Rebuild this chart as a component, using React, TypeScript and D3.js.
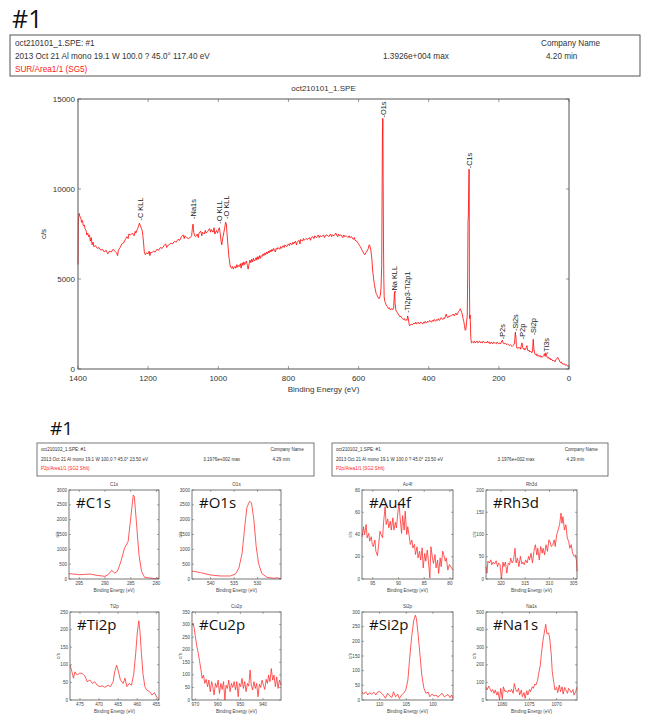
import React from "react";
import * as d3 from "d3";

// ---------- DATA ----------
const surveyBE = [1400,1399,1397,1395,1392,1390,1387,1385,1382,1380,1377,1375,1372,1370,1367,1365,1362,1360,1357,1355,1350,1345,1340,1335,1330,1325,1320,1315,1310,1305,1300,1295,1290,1287,1285,1280,1275,1270,1265,1260,1257,1255,1250,1245,1240,1237,1235,1230,1227,1225,1222,1220,1217,1215,1213,1211,1208,1205,1200,1197,1195,1192,1190,1185,1180,1175,1170,1165,1160,1155,1150,1147,1145,1140,1135,1130,1125,1120,1115,1110,1105,1100,1097,1095,1090,1085,1080,1076,1074,1072,1070,1067,1065,1060,1057,1055,1050,1047,1045,1040,1037,1035,1030,1025,1022,1020,1015,1012,1010,1005,1002,1000,997,995,992,990,987,985,982,979,977,975,973,970,967,965,962,960,957,955,952,950,947,945,942,940,937,935,932,930,927,925,922,920,917,915,912,910,907,905,902,900,897,895,892,890,887,885,882,880,877,875,872,870,867,865,862,860,857,855,852,850,847,845,842,840,837,835,832,830,825,822,820,815,812,810,805,800,797,795,790,787,785,780,777,775,770,767,765,760,757,755,750,745,740,737,735,730,727,725,720,715,712,710,705,700,697,695,690,685,680,677,675,670,665,660,657,655,650,645,642,640,635,630,627,625,620,615,612,610,605,600,597,595,590,587,585,582,580,577,575,572,570,568,565,562,560,557,555,552,550,547,545,542,540,538,536,534,533,532,531,530.5,530,529,528,527,525,522,520,517,515,512,510,505,502,500,498,497,496,494,492,490,487,485,482,480,477,475,472,470,467,465,462,460,458,456,454,452,450,447,445,442,440,437,435,432,430,427,425,422,420,417,415,412,410,407,405,402,400,397,395,392,390,387,385,382,380,377,375,372,370,367,365,362,360,357,355,352,350,348,345,342,340,337,335,332,330,327,325,322,320,317,315,312,310,308,306,304,302,300,298,296,294,292,290,289,288,287,286,285,284.5,284,283,282,281,280,278,275,272,270,267,265,262,260,257,255,252,250,247,245,242,240,237,235,232,230,227,225,222,220,217,215,212,210,207,205,202,200,197,195,192,190,188,185,182,180,177,175,172,170,167,165,162,160,157,155,153,151,150,148,145,142,140,138,136,134,132,130,128,126,124,122,120,118,116,114,112,110,108,106,104,102,100,98,96,94,92,90,88,86,84,82,80,78,76,74,72,70,68,66,64,62,60,58,56,54,52,50,48,46,44,42,40,38,36,34,32,30,28,26,24,22,20,18,16,14,12,10,8,6,4,2,0];
const surveyCps = [5800,8200,8650,8500,8400,8150,8250,7950,8000,7800,7700,7450,7550,7350,7450,7100,7300,6900,7050,6800,6850,6700,6750,6600,6650,6500,6600,6400,6550,6500,6650,6550,6450,6300,6600,6750,6950,7000,7200,7350,7250,7500,7450,7550,7400,7650,7550,7800,7950,8100,7950,7850,7700,7400,7000,6500,6350,6450,6400,6550,6300,6500,6450,6550,6500,6650,6600,6750,6700,6850,6950,6750,6850,6900,7000,6950,7100,7050,7200,7150,7350,7450,7250,7400,7300,7250,7300,7400,7800,8050,7600,7400,7350,7500,7300,7550,7650,7400,7600,7500,7700,7550,7650,7800,7600,7750,7600,7850,7500,7700,7550,7700,7850,7600,7100,6900,7300,7500,7800,8150,8050,7500,7000,6300,5850,5650,5600,5700,5550,5650,5700,5600,5800,5650,5750,5700,5850,5600,5900,5750,5950,5800,5900,6000,5750,5550,5850,6050,5900,6100,5950,6150,6000,6050,6200,6050,6250,6100,6300,6150,6300,6250,6400,6300,6450,6350,6500,6400,6550,6450,6600,6500,6650,6550,6700,6600,6500,6700,6650,6750,6650,6800,6700,6850,6750,6900,6800,6950,6850,7000,6900,7050,6950,7100,6900,7050,7150,6950,7200,7100,7250,7150,7250,7200,7300,7150,7300,7350,7250,7400,7300,7450,7300,7400,7350,7450,7300,7400,7450,7350,7500,7350,7450,7400,7550,7350,7500,7400,7450,7300,7450,7350,7400,7300,7400,7300,7350,7200,7300,7150,7100,6950,6850,6800,6600,6500,6400,6350,6450,6500,6600,6700,6900,6850,6600,6100,5500,5000,4700,4400,4200,4100,4000,3900,3950,4100,4500,5800,9500,13000,13926,13700,11000,7000,5000,4000,3750,3600,3500,3450,3350,3400,3300,3350,3300,3400,4200,4300,3700,3300,3200,3150,3050,3000,2900,2950,2850,2800,2750,2800,2700,2750,2700,2950,2800,2500,2400,2450,2500,2450,2500,2550,2500,2600,2500,2550,2600,2500,2550,2600,2550,2500,2600,2550,2650,2550,2600,2650,2600,2700,2650,2600,2700,2650,2750,2700,2650,2750,2700,2800,2700,2750,2850,2800,2750,2850,2800,2950,3050,2900,2850,2950,2900,2950,3000,3000,3050,2950,3050,3100,3000,3100,3200,3250,3350,3250,3150,3000,2800,2650,2400,2150,2200,2600,3000,5000,8200,8500,10000,11100,10500,5000,2800,3000,2500,1700,1450,1500,1450,1550,1450,1500,1550,1450,1500,1550,1450,1500,1450,1550,1500,1450,1500,1450,1550,1450,1500,1400,1500,1450,1400,1500,1450,1450,1400,1500,1450,1400,1450,1400,1550,1600,1450,1400,1450,1400,1350,1400,1350,1300,1350,1300,1250,1300,1350,1500,2050,1700,1250,1150,1200,1150,1200,1100,1300,1450,1200,1100,1150,1050,1100,1200,1300,1050,1000,1050,950,1000,950,900,1000,1650,1100,850,800,850,750,800,700,750,700,750,650,700,650,700,750,850,700,900,750,650,600,650,550,600,500,550,500,450,500,450,400,500,550,600,650,550,500,400,350,400,300,300,250,300,250,200,250,200,150,200,150];

const peakNames = ["C KLL","Na1s","O KLL","O KLL","O1s","Na KLL","Ti2p3-Ti2p1","C1s","P2s","Si2s","P2p","Si2p","Ti3s"];
const peakBE = [1224,1071,998,977,531,499,460,285,191,153,134,102,66];
const peakCps = [8250,8340,8070,8340,13970,4220,3120,11150,1650,2110,1650,1870,825];

const surveyXTicks = [1400,1200,1000,800,600,400,200,0];
const surveyYTicks = [0,5000,10000,15000];

// C1s
const c1sBE = [297,294.9,292.9,291.6,290,289.4,288.7,288.1,287.6,287,286.2,285.5,285,284.5,284.3,283.9,283.4,282.9,282.3,281.3,280.3,279.5];
const c1sCps = [180,145,168,123,90,145,290,200,258,537,1040,1265,2050,2830,2780,1940,820,260,56,34,10,34];
// O1s
const o1sBE = [544,542.2,540.1,538,535.8,534.7,534,533.3,532.8,532.3,531.7,531.3,530.8,530.3,529.8,529.1,528,526.6,525.8,525];
const o1sCps = [270,215,136,102,102,170,362,870,1660,2400,2620,2570,2000,1100,530,190,57,23,40,10];
// Ti2p
const ti2pBE = [477.6,477.2,476.7,476.3,475.7,475,474.3,473.7,473.1,472.4,471.7,471.1,470.5,469.8,469.1,468.5,467.6,467,466.3,465.9,465.4,464.9,464.4,463.7,463.2,462.7,462.1,461.5,460.9,460.4,460,459.6,459.3,458.9,458.5,458,457.5,456.8,456.1,455.5,454.9,454.3];
const ti2pCps = [99,85,62,80,71,77,74,68,52,57,47,52,42,38,40,36,42,38,52,80,99,80,57,47,62,38,47,42,75,132,189,225,198,132,75,38,28,24,14,21,8,2];
// Cu2p
const cu2pBE = [971.5,971,970.5,970,969.3,968.7,968.1,967.5,967,966.4,965.8,965.2,964.6,964,963.4,962.8,962.3,961.7,961.1,960.5,959.9,959.3,958.7,958.1,957.5,956.9,956.4,955.8,955.2,954.6,954,953.4,952.8,952.2,951.6,951,950.5,949.9,949.3,948.7,948.1,947.5,946.9,946.3,945.7,945.2,944.6,944,943.4,942.8,942.2,941.6,941,940.4,939.8,939.2,938.6,938,937.5,936.9,936.3,935.7,935.1,934.5,933.9,933.3,932.7,932];
const cu2pCps = [297,306,284,251,211,185,152,119,86,99,66,82,53,79,33,73,55,20,66,50,79,26,66,42,73,0,59,46,79,33,66,50,73,40,73,13,66,53,86,46,73,33,66,55,119,59,40,73,46,66,13,63,50,79,59,42,82,66,99,73,125,79,99,53,92,46,79,59];
// Au4f
const au4fBE = [97.1,96.8,96.6,96.3,96.1,95.8,95.6,95.3,95.1,94.9,94.6,94.4,94.1,93.9,93.6,93.4,93.1,92.9,92.6,92.4,92.1,91.9,91.6,91.4,91.1,90.9,90.6,90.4,90.1,89.9,89.7,89.4,89.2,88.9,88.7,88.4,88.2,87.9,87.7,87.4,87.2,86.9,86.7,86.4,86.2,85.9,85.7,85.4,85.2,84.9,84.7,84.4,84.2,83.9,83.7,83.4,83.2,82.9,82.7,82.4,82.2,81.9,81.7,81.4,81.2,80.9,80.7,80.4,80.1,79.4];
const au4fCps = [38,47,40,49,37,41,34,38,31,29,35,25,21,29,43,40,37,51,65,49,54,46,52,44,55,44,51,46,61,69,56,41,57,44,61,40,47,38,31,35,28,31,22,29,19,25,17,28,10,23,16,26,17,1,29,19,14,22,10,17,5,19,11,25,22,16,19,8,13,8];
// Rh3d
const rh3dBE = [323.1,322.9,322.7,322.4,322.1,321.9,321.6,321.3,321,320.7,320.5,320.2,319.9,319.6,319.4,319.1,318.8,318.5,318.2,318,317.7,317.4,317.1,316.9,316.6,316.3,316,315.7,315.5,315.2,314.9,314.6,314.3,314.1,313.8,313.5,313.2,312.9,312.6,312.4,312.1,311.8,311.5,311.3,311,310.7,310.4,310.1,309.9,309.6,309.3,309,308.8,308.5,308.2,307.9,307.6,307.4,307.2,306.9,306.6,306.3,306,305.8,305.5,305.2,304.9,304.6,304.4,304.3];
const rh3dCps = [28,13,40,36,43,32,38,34,41,28,36,32,0,38,28,38,13,36,32,47,36,43,69,36,47,28,51,34,38,32,43,36,51,43,58,36,62,77,54,69,43,73,58,69,54,77,62,88,84,73,77,88,73,99,110,122,148,125,140,110,122,92,84,69,77,58,51,54,40,17];
// Si2p
const si2pBE = [113.3,113,112.6,112.2,111.9,111.5,111.1,110.7,110.4,110,109.6,109.2,108.9,108.5,108.1,107.7,107.4,107,106.6,106.3,105.9,105.5,105.1,104.7,104.4,104,103.6,103.3,103.1,102.8,102.4,102.1,101.7,101.3,100.9,100.6,100.2,99.8,99.4,99.1,98.7,98.3,97.9,97.6,97.2,96.8,96.5,96.25];
const si2pCps = [28,20,28,17,25,20,27,17,27,29,23,14,6,23,14,9,28,11,20,5,17,23,34,68,136,215,272,289,277,226,147,85,40,23,27,11,20,14,17,9,16,23,11,14,19,8,17,6];
// Na1s
const na1sBE = [1083,1082.8,1082.5,1082.3,1082,1081.8,1081.5,1081.3,1081,1080.8,1080.5,1080.3,1080,1079.8,1079.5,1079.3,1079,1078.8,1078.5,1078.3,1078,1077.8,1077.5,1077.3,1077,1076.8,1076.5,1076.3,1076,1075.8,1075.5,1075.3,1075,1074.8,1074.5,1074.3,1074,1073.8,1073.5,1073.3,1073,1072.8,1072.5,1072.3,1072,1071.8,1071.5,1071.3,1071,1070.8,1070.5,1070.3,1070,1069.8,1069.5,1069.3,1069,1068.8,1068.5,1068.3,1068,1067.8,1067.5,1067.3,1067,1066.8,1066.5,1066.3,1066.25];
const na1sCps = [72,57,79,66,47,60,38,57,28,47,0,66,9,75,47,53,42,57,47,60,38,94,57,47,66,28,57,19,42,9,53,28,60,47,75,66,91,85,113,151,198,264,340,377,430,377,381,358,264,160,94,57,72,42,85,47,75,34,72,57,38,66,53,42,60,28,47,66,72];

// ---------- LAYOUT ----------
const FONT = "'Liberation Sans', Arial, sans-serif";
const RED = "#ff0000";
const FRAME = "#555";

const MAIN = { left: 78, right: 569, top: 99, bottom: 369 };

type PanelDef = {
  title: string; tag: string; be: number[]; cps: number[];
  xDomain: [number, number]; yMax: number; yStep: number; xTicks: number[];
  box: [number, number, number, number];
};

const panels: PanelDef[] = [
  { title: "C1s", tag: "#C1s", be: c1sBE, cps: c1sCps, xDomain: [297, 279.5], yMax: 3000, yStep: 500, xTicks: [295, 290, 285, 280], box: [69, 490, 159, 579] },
  { title: "O1s", tag: "#O1s", be: o1sBE, cps: o1sCps, xDomain: [544, 525], yMax: 3000, yStep: 500, xTicks: [540, 535, 530], box: [192, 490, 281, 579] },
  { title: "Ti2p", tag: "#Ti2p", be: ti2pBE, cps: ti2pCps, xDomain: [477.6, 454.3], yMax: 250, yStep: 50, xTicks: [475, 470, 465, 460, 455], box: [70, 612, 159, 700] },
  { title: "Cu2p", tag: "#Cu2p", be: cu2pBE, cps: cu2pCps, xDomain: [971.5, 932], yMax: 350, yStep: 50, xTicks: [970, 960, 950, 940], box: [192, 612, 281, 700] },
  { title: "Au4f", tag: "#Au4f", be: au4fBE, cps: au4fCps, xDomain: [97.1, 79.4], yMax: 80, yStep: 20, xTicks: [95, 90, 85, 80], box: [362, 490, 453, 579] },
  { title: "Rh3d", tag: "#Rh3d", be: rh3dBE, cps: rh3dCps, xDomain: [323.1, 304.3], yMax: 200, yStep: 50, xTicks: [320, 315, 310, 305], box: [486, 490, 577, 579] },
  { title: "Si2p", tag: "#Si2p", be: si2pBE, cps: si2pCps, xDomain: [113.3, 96.25], yMax: 300, yStep: 50, xTicks: [110, 105, 100], box: [362, 612, 453, 700] },
  { title: "Na1s", tag: "#Na1s", be: na1sBE, cps: na1sCps, xDomain: [1083, 1066.25], yMax: 500, yStep: 100, xTicks: [1080, 1075, 1070], box: [486, 612, 577, 700] },
];

function Panel({ p }: { p: PanelDef }) {
  const [x0, y0, x1, y1] = p.box;
  const x = d3.scaleLinear().domain(p.xDomain).range([x0, x1]);
  const y = d3.scaleLinear().domain([0, p.yMax]).range([y1, y0]);
  const line = d3.line<number>().x((_, i) => x(p.be[i])).y((v) => y(v));
  const yTicks = d3.range(0, p.yMax + 0.001, p.yStep);
  const fs = 4.6;
  return (
    <g fontFamily={FONT}>
      <text x={(x0 + x1) / 2} y={y0 - 4} fontSize={fs} textAnchor="middle" fill="#444">{p.title}</text>
      <path d={line(p.cps) || ""} fill="none" stroke="#ff3030" strokeWidth={0.8} strokeLinejoin="round" />
      <rect x={x0} y={y0} width={x1 - x0} height={y1 - y0} fill="none" stroke={FRAME} strokeWidth={0.8} />
      {yTicks.map((t) => (
        <g key={"y" + t}>
          <line x1={x0} x2={x0 + 2} y1={y(t)} y2={y(t)} stroke={FRAME} strokeWidth={0.5} />
          <line x1={x1} x2={x1 - 2} y1={y(t)} y2={y(t)} stroke={FRAME} strokeWidth={0.5} />
          <text x={x0 - 2} y={y(t) + 1.5} fontSize={fs} textAnchor="end" fill="#444">{t}</text>
        </g>
      ))}
      {p.xTicks.map((t) => (
        <g key={"x" + t}>
          <line x1={x(t)} x2={x(t)} y1={y1} y2={y1 - 2} stroke={FRAME} strokeWidth={0.5} />
          <line x1={x(t)} x2={x(t)} y1={y0} y2={y0 + 2} stroke={FRAME} strokeWidth={0.5} />
          <text x={x(t)} y={y1 + 6} fontSize={fs} textAnchor="middle" fill="#444">{t}</text>
        </g>
      ))}
      <text x={(x0 + x1) / 2} y={y1 + 13} fontSize={fs} textAnchor="middle" fill="#444">Binding Energy (eV)</text>
      <text transform={`translate(${x0 - 10},${(y0 + y1) / 2}) rotate(-90)`} fontSize={fs} textAnchor="middle" fill="#444">c/s</text>
      <text x={x0 + 7} y={y0 + 18} fontSize={15} fontFamily="'Open Sans', sans-serif" fill="#111">{p.tag}</text>
    </g>
  );
}

function SmallHeader({ x0, x1 }: { x0: number; x1: number }) {
  const w = x1 - x0;
  const fs = 4.6;
  return (
    <g fontFamily={FONT} fontSize={fs} fill="#333">
      <rect x={x0} y={443} width={w} height={33} fill="none" stroke={FRAME} strokeWidth={0.8} />
      <text x={x0 + 4} y={451}>oct210102_1.SPE: #1</text>
      <text x={x0 + w * 0.843} y={451}>Company Name</text>
      <text x={x0 + 4} y={461}>2013 Oct 21  Al mono  19.1 W  100.0 ?  45.0°  23.50 eV</text>
      <text x={x0 + w * 0.6} y={461}>3.1976e+002 max</text>
      <text x={x0 + w * 0.85} y={461}>4.29 min</text>
      <text x={x0 + 4} y={470} fill="#ff2020">P2p/Area1/1 (SG2 Shft)</text>
    </g>
  );
}

export default function App() {
  const x = d3.scaleLinear().domain([1400, 0]).range([MAIN.left, MAIN.right]);
  const y = d3.scaleLinear().domain([0, 15000]).range([MAIN.bottom, MAIN.top]);
  const line = d3.line<number>().x((_, i) => x(surveyBE[i])).y((v) => y(v));
  const fs = 8;
  return (
    <svg width={650} height={718} style={{ position: "absolute", left: 0, top: 0, background: "#fff" }}>
      <rect x={0} y={0} width={650} height={718} fill="#fff" />
      <text x={12} y={28} fontSize={25} fontFamily="'Open Sans', sans-serif" fill="#111">#1</text>
      {/* header */}
      <g fontFamily={FONT} fontSize={8.2} fill="#333">
        <rect x={10} y={35} width={630} height={41} fill="none" stroke={FRAME} strokeWidth={1} />
        <text x={15} y={46}>oct210101_1.SPE: #1</text>
        <text x={541} y={46}>Company Name</text>
        <text x={15} y={59}>2013 Oct 21  Al mono  19.1 W  100.0 ?  45.0°  117.40 eV</text>
        <text x={383} y={59}>1.3926e+004 max</text>
        <text x={546} y={59}>4.20 min</text>
        <text x={15} y={72} fill="#ff2020">SUR/Area1/1 (SG5)</text>
      </g>
      {/* main chart */}
      <g fontFamily={FONT}>
        <text x={(MAIN.left + MAIN.right) / 2} y={91} fontSize={fs} textAnchor="middle" fill="#333">oct210101_1.SPE</text>
        <path d={line(surveyCps) || ""} fill="none" stroke={RED} strokeWidth={0.8} strokeLinejoin="round" />
        <rect x={MAIN.left} y={MAIN.top} width={MAIN.right - MAIN.left} height={MAIN.bottom - MAIN.top} fill="none" stroke={FRAME} strokeWidth={1} />
        {surveyYTicks.map((t) => (
          <g key={"y" + t}>
            <line x1={MAIN.left} x2={MAIN.left + 3} y1={y(t)} y2={y(t)} stroke={FRAME} strokeWidth={0.6} />
            <line x1={MAIN.right} x2={MAIN.right - 3} y1={y(t)} y2={y(t)} stroke={FRAME} strokeWidth={0.6} />
            <text x={MAIN.left - 3} y={y(t) + 2.5} fontSize={fs} textAnchor="end" fill="#333">{t}</text>
          </g>
        ))}
        {surveyXTicks.map((t) => (
          <g key={"x" + t}>
            <line x1={x(t)} x2={x(t)} y1={MAIN.bottom} y2={MAIN.bottom - 3} stroke={FRAME} strokeWidth={0.6} />
            <line x1={x(t)} x2={x(t)} y1={MAIN.top} y2={MAIN.top + 3} stroke={FRAME} strokeWidth={0.6} />
            <text x={x(t)} y={MAIN.bottom + 12} fontSize={fs} textAnchor="middle" fill="#333">{t}</text>
          </g>
        ))}
        <text x={(MAIN.left + MAIN.right) / 2} y={MAIN.bottom + 23} fontSize={fs} textAnchor="middle" fill="#333">Binding Energy (eV)</text>
        <text transform={`translate(${MAIN.left - 32},${(MAIN.top + MAIN.bottom) / 2}) rotate(-90)`} fontSize={fs} textAnchor="middle" fill="#333">c/s</text>
        {peakNames.map((n, i) => (
          <text key={"p" + i} transform={`translate(${x(peakBE[i]) + 2.8},${y(peakCps[i])}) rotate(-90)`} fontSize={7.4} fill="#222">{"-" + n}</text>
        ))}
      </g>
      {/* lower section */}
      <text x={50} y={435} fontSize={19} fontFamily="'Open Sans', sans-serif" fill="#111">#1</text>
      <SmallHeader x0={37} x1={314} />
      <SmallHeader x0={332} x1={608} />
      {panels.map((p) => <Panel key={p.title} p={p} />)}
    </svg>
  );
}
